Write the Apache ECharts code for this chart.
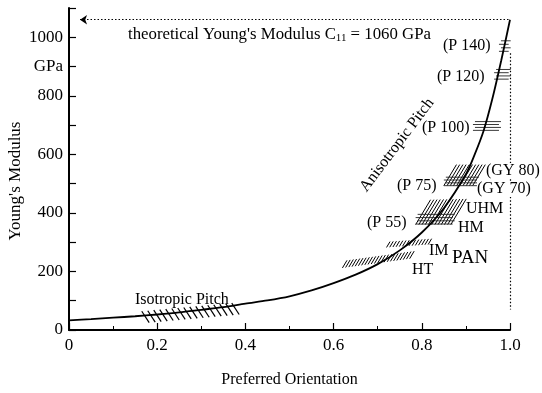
<!DOCTYPE html>
<html>
<head>
<meta charset="utf-8">
<script src="https://cdn.jsdelivr.net/npm/echarts@6/dist/echarts.min.js"></script>
<style>html,body{margin:0;padding:0;background:#fff}#c{width:542px;height:393px}</style>
</head>
<body>
<div id="c"></div>
<script>
// ---- data ----
const curveX = [0, 0.05, 0.1, 0.15, 0.2, 0.25, 0.3, 0.35, 0.4, 0.45, 0.5, 0.55, 0.6, 0.65, 0.7, 0.75, 0.8, 0.85, 0.9, 0.92, 0.94, 0.96, 0.98, 1.0];
const curveY = [33, 37, 42, 47, 53, 60, 69, 78, 90, 101, 115, 135, 160, 189, 225, 272, 333, 416, 532, 600, 680, 790, 920, 1060];

const hatchNames   = ['Isotropic', 'HT', 'IM', 'UHM', 'HM', 'GY80', 'GY70', 'P100', 'P120', 'P140'];
const hatchX0      = [0.165, 0.62, 0.72, 0.786, 0.786, 0.85, 0.85, 0.916, 0.964, 0.975];
const hatchX1      = [0.37, 0.775, 0.815, 0.87, 0.87, 0.92, 0.925, 0.975, 0.997, 0.997];
const hatchYLeftLo = [25, 212, 282, 360, 362, 493, 493, 682, 857, 952];
const hatchYLeftHi = [64, 238, 302, 445, 395, 565, 522, 712, 890, 988];
const hatchYRightLo= [53, 244, 292, 360, 362, 493, 493, 682, 857, 952];
const hatchYRightHi= [92, 270, 312, 448, 395, 565, 522, 712, 890, 988];
const hatchPattern = ['\\', '/', '/', '/', '=', '/', '=', '=', '=', '='];

const theoreticalModulus = 1060;
const arrowX = [0.025, 1.0];
const dropY = [945, 70];

const yTickLabels = {0:'0', 200:'200', 400:'400', 600:'600', 800:'800', 900:'GPa', 1000:'1000'};

// ---- build ----
const FONT = '"Liberation Serif", "Times New Roman", serif';
const curveData = curveX.map((x, i) => [x, curveY[i]]);
const hatchData = hatchNames.map((n, i) => [hatchX0[i], hatchX1[i], hatchYLeftLo[i], hatchYLeftHi[i], hatchYRightLo[i], hatchYRightHi[i]]);

function renderHatch(params, api) {
  const i = params.dataIndex;
  const pat = hatchPattern[i];
  const a = api.coord([api.value(0), api.value(2)]);
  const b = api.coord([api.value(0), api.value(3)]);
  const c = api.coord([api.value(1), api.value(4)]);
  const d = api.coord([api.value(1), api.value(5)]);
  const children = [];
  const style = {stroke: '#000', lineWidth: 1};
  if (pat === '=') {
    const n = 4;
    for (let k = 0; k < n; k++) {
      const t = k / (n - 1);
      const off = (k % 2) * 2;
      children.push({type: 'line', shape: {x1: a[0] + off, y1: a[1] + t * (b[1] - a[1]), x2: c[0] + off, y2: c[1] + t * (d[1] - c[1])}, style: {stroke: '#222', lineWidth: 0.9}});
    }
  } else {
    const sp = pat === '\\' ? 6 : 3.2;
    const ratio = pat === '\\' ? 0.65 : 0.6;
    for (let px = a[0]; px <= c[0] + 0.01; px += sp) {
      const u = (px - a[0]) / (c[0] - a[0]);
      const bot = a[1] + u * (c[1] - a[1]);
      const top = b[1] + u * (d[1] - b[1]);
      const s = (bot - top) * ratio;
      if (pat === '/') children.push({type: 'line', shape: {x1: px, y1: bot, x2: px + s, y2: top}, style});
      else children.push({type: 'line', shape: {x1: px, y1: top, x2: px + s, y2: bot}, style: {stroke: '#000', lineWidth: 1.2}});
    }
  }
  return {type: 'group', children};
}

function txt(text, x, y, size, extra) {
  return {type: 'text', x, y, z: 100, style: Object.assign({text, font: size + 'px ' + FONT, fill: '#000', verticalAlign: 'middle'}, extra || {})};
}

const chart = echarts.init(document.getElementById('c'), null, {renderer: 'canvas'});
chart.setOption({
  animation: false,
  backgroundColor: '#fff',
  grid: {left: 69, right: 32, top: 8, bottom: 52, containLabel: false},
  xAxis: {
    type: 'value', min: 0, max: 1, interval: 0.2,
    name: 'Preferred Orientation', nameLocation: 'middle', nameGap: 42,
    nameTextStyle: {fontFamily: FONT, fontSize: 16, color: '#000'},
    axisLine: {lineStyle: {color: '#000', width: 2}},
    axisTick: {inside: true, length: 7, lineStyle: {color: '#000', width: 1.2}},
    minorTick: {show: true, splitNumber: 2, length: 4, lineStyle: {color: '#000', width: 1}},
    splitLine: {show: false},
    axisLabel: {fontFamily: FONT, fontSize: 17, color: '#000', margin: 7,
      formatter: v => (v === 0 ? '0' : v.toFixed(1))}
  },
  yAxis: {
    type: 'value', min: 0, max: 1100, interval: 100,
    axisLine: {show: true, lineStyle: {color: '#000', width: 2}},
    axisTick: {inside: true, length: 7, lineStyle: {color: '#000', width: 1.2}},
    splitLine: {show: false},
    axisLabel: {fontFamily: FONT, fontSize: 17, color: '#000', margin: 6,
      formatter: v => (yTickLabels[Math.round(v)] !== undefined ? yTickLabels[Math.round(v)] : '')}
  },
  series: [
    {
      type: 'line', data: curveData, smooth: 0.3, showSymbol: false,
      lineStyle: {color: '#000', width: 1.8}, z: 3,
      markLine: {
        silent: true, symbolSize: 7, label: {show: false},
        data: [
          [{coord: [arrowX[0], theoreticalModulus], symbol: 'arrow', lineStyle: {type: [1.5, 2], color: '#000', width: 1.2}},
           {coord: [arrowX[1], theoreticalModulus], symbol: 'none'}],
          [{coord: [1.0, dropY[0]], symbol: 'none', lineStyle: {type: [1.5, 2], color: '#000', width: 1.2}},
           {coord: [1.0, dropY[1]], symbol: 'none'}]
        ]
      }
    },
    {
      type: 'custom', renderItem: renderHatch, data: hatchData, clip: false, z: 2,
      encode: {x: [0, 1], y: [2, 3, 4, 5]}
    }
  ],
  graphic: [
    {type: 'text', x: 16, y: 181, rotation: Math.PI / 2, z: 100,
      style: {text: "Young's Modulus", font: '17px ' + FONT, fill: '#000', align: 'center', verticalAlign: 'middle'}},
    {type: 'text', x: 128, y: 35, z: 100,
      style: {text: "{a|theoretical Young's Modulus C}{s|11}{a| = 1060 GPa}", verticalAlign: 'middle',
        rich: {a: {fontFamily: FONT, fontSize: 16.8, color: '#000', lineHeight: 18, verticalAlign: 'middle'},
               s: {fontFamily: FONT, fontSize: 11, color: '#000', lineHeight: 10, verticalAlign: 'bottom'}}}},
    txt('(P 140)', 443, 46, 16),
    txt('(P 120)', 437, 77, 16),
    txt('(P 100)', 422, 128, 16),
    txt('(GY 80)', 486, 171, 16, {backgroundColor: '#fff'}),
    txt('(GY 70)', 477, 189, 16, {backgroundColor: '#fff'}),
    txt('(P 75)', 397, 186, 16),
    txt('UHM', 466, 209, 16),
    txt('HM', 458, 228, 16),
    txt('(P 55)', 367, 223, 16),
    txt('IM', 429, 251, 16),
    txt('PAN', 452, 258, 19),
    txt('HT', 412, 270, 16),
    txt('Isotropic Pitch', 135, 300, 16),
    {type: 'text', x: 397, y: 145, rotation: 53 * Math.PI / 180, z: 100,
      style: {text: 'Anisotropic Pitch', font: '16px ' + FONT, fill: '#000', align: 'center', verticalAlign: 'middle'}}
  ]
});
</script>
</body>
</html>
